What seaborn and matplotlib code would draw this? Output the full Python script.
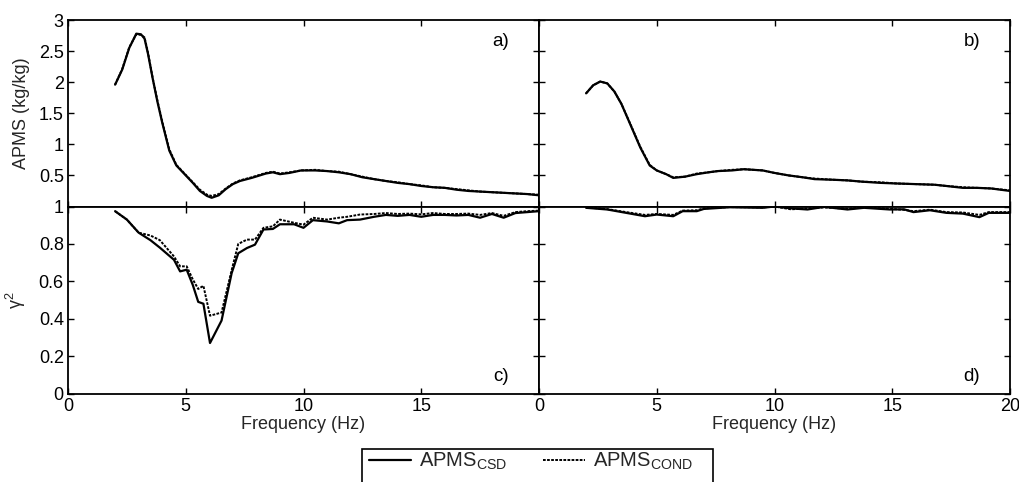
import numpy as np
import pandas as pd
import seaborn as sns
import matplotlib
matplotlib.use("Agg")
import matplotlib.pyplot as plt
from matplotlib.patches import Rectangle

# ---------------- data ----------------
# a) APMS, left case
fa = [2.0, 2.3, 2.6, 2.9, 3.1, 3.25, 3.4, 3.6, 3.8, 4.0, 4.3, 4.6, 5.0, 5.3, 5.6, 5.9, 6.1,
      6.4, 6.7, 7.0, 7.3, 7.8, 8.4, 8.7, 9.0, 9.4, 9.9, 10.5, 11.0, 11.5, 12.0, 12.5, 13.0,
      13.5, 14.0, 14.5, 15.0, 15.5, 16.0, 16.5, 17.0, 17.5, 18.0, 18.5, 19.0, 19.5, 20.0]
apms_csd_a = [1.96, 2.20, 2.55, 2.78, 2.77, 2.70, 2.45, 2.05, 1.68, 1.35, 0.90, 0.66, 0.50,
              0.38, 0.25, 0.17, 0.14, 0.18, 0.28, 0.36, 0.41, 0.46, 0.53, 0.55, 0.52, 0.54,
              0.58, 0.58, 0.57, 0.55, 0.52, 0.47, 0.44, 0.41, 0.38, 0.36, 0.33, 0.31, 0.30,
              0.27, 0.25, 0.24, 0.23, 0.22, 0.21, 0.20, 0.18]
apms_cond_a = [1.96, 2.21, 2.56, 2.77, 2.76, 2.72, 2.47, 2.06, 1.70, 1.37, 0.92, 0.67, 0.51,
               0.39, 0.27, 0.19, 0.17, 0.20, 0.29, 0.37, 0.42, 0.47, 0.54, 0.56, 0.53, 0.55,
               0.58, 0.59, 0.57, 0.56, 0.52, 0.48, 0.44, 0.41, 0.39, 0.36, 0.34, 0.31, 0.30,
               0.28, 0.26, 0.24, 0.23, 0.22, 0.21, 0.20, 0.19]

# b) APMS, right case
fb = [2.0, 2.3, 2.6, 2.9, 3.2, 3.5, 3.9, 4.3, 4.7, 5.0, 5.4, 5.7, 6.2, 6.7, 7.2, 7.6, 8.2,
      8.7, 9.5, 10.0, 10.6, 11.2, 11.7, 12.5, 13.1, 13.7, 14.5, 15.2, 16.0, 16.8, 17.3,
      18.0, 18.6, 19.2, 20.0]
apms_csd_b = [1.82, 1.95, 2.01, 1.98, 1.85, 1.65, 1.30, 0.95, 0.66, 0.58, 0.52, 0.46, 0.48,
              0.52, 0.55, 0.57, 0.58, 0.60, 0.58, 0.54, 0.50, 0.47, 0.44, 0.43, 0.42, 0.40,
              0.38, 0.37, 0.36, 0.35, 0.33, 0.30, 0.30, 0.29, 0.25]
apms_cond_b = [1.82, 1.95, 2.01, 1.98, 1.85, 1.65, 1.31, 0.96, 0.67, 0.58, 0.52, 0.47, 0.48,
               0.53, 0.55, 0.57, 0.59, 0.60, 0.58, 0.54, 0.50, 0.47, 0.45, 0.43, 0.42, 0.40,
               0.39, 0.37, 0.36, 0.35, 0.33, 0.31, 0.30, 0.29, 0.26]

# c) coherence, left case
fc = [2.0, 2.5, 3.0, 3.5, 3.9, 4.5, 4.76, 5.04, 5.3, 5.53, 5.75, 6.03, 6.52, 6.95, 7.23, 7.6,
      7.94, 8.3, 8.7, 9.0, 9.6, 10.0, 10.4, 11.0, 11.5, 11.85, 12.4, 13.0, 13.5, 14.0, 14.5,
      15.0, 15.5, 16.0, 16.5, 17.0, 17.5, 18.0, 18.5, 19.0, 19.5, 20.0]
coh_csd_c = [0.975, 0.93, 0.86, 0.82, 0.78, 0.715, 0.653, 0.662, 0.58, 0.49, 0.48, 0.27, 0.39,
             0.644, 0.75, 0.778, 0.796, 0.877, 0.88, 0.905, 0.905, 0.886, 0.927, 0.92, 0.91,
             0.927, 0.93, 0.945, 0.955, 0.95, 0.955, 0.945, 0.955, 0.955, 0.952, 0.955, 0.94,
             0.96, 0.94, 0.965, 0.97, 0.975]
coh_cond_c = [0.975, 0.93, 0.86, 0.845, 0.82, 0.733, 0.68, 0.68, 0.61, 0.559, 0.576, 0.416,
              0.433, 0.66, 0.80, 0.823, 0.823, 0.886, 0.894, 0.93, 0.913, 0.903, 0.94, 0.93,
              0.94, 0.945, 0.957, 0.96, 0.965, 0.96, 0.962, 0.958, 0.965, 0.96, 0.96, 0.962,
              0.955, 0.965, 0.95, 0.97, 0.975, 0.978]

# d) coherence, right case
fd = [2.0, 2.9, 3.7, 4.5, 5.0, 5.7, 6.1, 6.7, 7.0, 8.1, 9.5, 10.0, 10.7, 11.4, 12.1, 13.1,
      13.8, 14.9, 15.5, 15.9, 16.6, 17.3, 18.0, 18.7, 19.1, 20.0]
coh_csd_d = [0.993, 0.984, 0.966, 0.948, 0.957, 0.948, 0.975, 0.975, 0.987, 0.996, 0.993,
             1.0, 0.99, 0.984, 0.998, 0.984, 0.993, 0.984, 0.985, 0.97, 0.98, 0.966, 0.962,
             0.943, 0.966, 0.966]
coh_cond_d = [0.995, 0.986, 0.97, 0.955, 0.96, 0.955, 0.978, 0.98, 0.99, 0.997, 0.995, 1.0,
              0.985, 0.99, 0.995, 0.988, 0.995, 0.988, 0.982, 0.975, 0.983, 0.97, 0.968,
              0.955, 0.97, 0.97]

xticks = [0, 5, 10, 15, 20]
xticklabels_left = ["0", "5", "10", "15", ""]
xticklabels_right = ["0", "5", "10", "15", "20"]
yticks_top = [0, 0.5, 1, 1.5, 2, 2.5, 3]
yticklabels_top = ["", "0.5", "1", "1.5", "2", "2.5", "3"]
yticks_bot = [0, 0.2, 0.4, 0.6, 0.8, 1]
yticklabels_bot = ["0", "0.2", "0.4", "0.6", "0.8", "1"]
panel_labels = ["a)", "b)", "c)", "d)"]
series_labels = ["APMS$_{\\mathregular{CSD}}$", "APMS$_{\\mathregular{COND}}$"]

# ---------------- style ----------------
sns.set_theme(style="ticks")
plt.rcParams["font.family"] = ["Liberation Sans", "DejaVu Sans"]
plt.rcParams["mathtext.fontset"] = "custom"
plt.rcParams["mathtext.rm"] = "Liberation Sans"
plt.rcParams["mathtext.it"] = "Liberation Sans:italic"
plt.rcParams["mathtext.default"] = "regular"
FS = 13

fig = plt.figure(figsize=(10.2, 4.82), dpi=100)
W, H = 1020, 482
def ax_at(x0, y0, x1, y1):
    return fig.add_axes([x0 / W, 1 - y1 / H, (x1 - x0) / W, (y1 - y0) / H])

ax_a = ax_at(68, 20, 539, 206.5)
ax_b = ax_at(539, 20, 1010, 206.5)
ax_c = ax_at(68, 206.5, 539, 393.5)
ax_d = ax_at(539, 206.5, 1010, 393.5)

def draw(ax, f, s1, s2):
    df = pd.DataFrame({"f": list(f) * 2,
                       "v": list(s1) + list(s2),
                       "series": [series_labels[0]] * len(f) + [series_labels[1]] * len(f)})
    sns.lineplot(data=df[df.series == series_labels[1]], x="f", y="v", ax=ax,
                 color="black", lw=1.4, linestyle=(0, (1.4, 0.7)),
                 label=series_labels[1], legend=False)
    sns.lineplot(data=df[df.series == series_labels[0]], x="f", y="v", ax=ax,
                 color="black", lw=1.6, linestyle="-",
                 label=series_labels[0], legend=False)

draw(ax_a, fa, apms_csd_a, apms_cond_a)
draw(ax_b, fb, apms_csd_b, apms_cond_b)
draw(ax_c, fc, coh_csd_c, coh_cond_c)
draw(ax_d, fd, coh_csd_d, coh_cond_d)

for ax, lab in zip([ax_a, ax_b, ax_c, ax_d], panel_labels):
    ax.set_xlim(0, 20)
    ax.set_xticks(xticks)
    for sp in ax.spines.values():
        sp.set_visible(True)
        sp.set_linewidth(1.3)
        sp.set_color("black")
    ax.tick_params(direction="in", length=4, width=1, top=True, right=True,
                   labelsize=FS, colors="black", pad=3)
    ax.set_xlabel("")
    ax.set_ylabel("")
    yy = 0.887 if lab in ("a)", "b)") else 0.09
    ax.text(0.919, yy, lab, transform=ax.transAxes, ha="center", va="center",
            fontsize=FS + 0.5, color="black")

for ax in (ax_a, ax_b):
    ax.set_ylim(0, 3)
    ax.set_yticks(yticks_top)
    ax.set_xticklabels([])
for ax in (ax_c, ax_d):
    ax.set_ylim(0, 1)
    ax.set_yticks(yticks_bot)
ax_a.set_yticklabels(yticklabels_top)
ax_c.set_yticklabels(yticklabels_bot)
ax_b.set_yticklabels([])
ax_d.set_yticklabels([])
ax_c.set_xticklabels(xticklabels_left)
ax_d.set_xticklabels(xticklabels_right)

ax_a.set_ylabel("APMS (kg/kg)", fontsize=FS, labelpad=6)
ax_c.set_ylabel("$\\gamma^2$", fontsize=FS, labelpad=8)
ax_c.set_xlabel("Frequency (Hz)", fontsize=FS, labelpad=1)
ax_d.set_xlabel("Frequency (Hz)", fontsize=FS, labelpad=1)

# legend
handles, labels = ax_c.get_legend_handles_labels()
order = [labels.index(series_labels[0]), labels.index(series_labels[1])]
handles = [handles[i] for i in order]
labels = [labels[i] for i in order]
fig.legend(handles, labels, loc="upper left", bbox_to_anchor=(369 / W, 1 - 451 / H),
           ncol=2, frameon=False, fontsize=14.5, borderpad=0, borderaxespad=0,
           handlelength=2.1, handletextpad=0.4, columnspacing=1.75)
fig.patches.append(Rectangle((362 / W, -0.05), (713 - 362) / W, 0.05 + 1 - 449 / H,
                             transform=fig.transFigure, fill=False, ec="black", lw=1.2,
                             clip_on=False))

fig.savefig("out.png", dpi=100)
